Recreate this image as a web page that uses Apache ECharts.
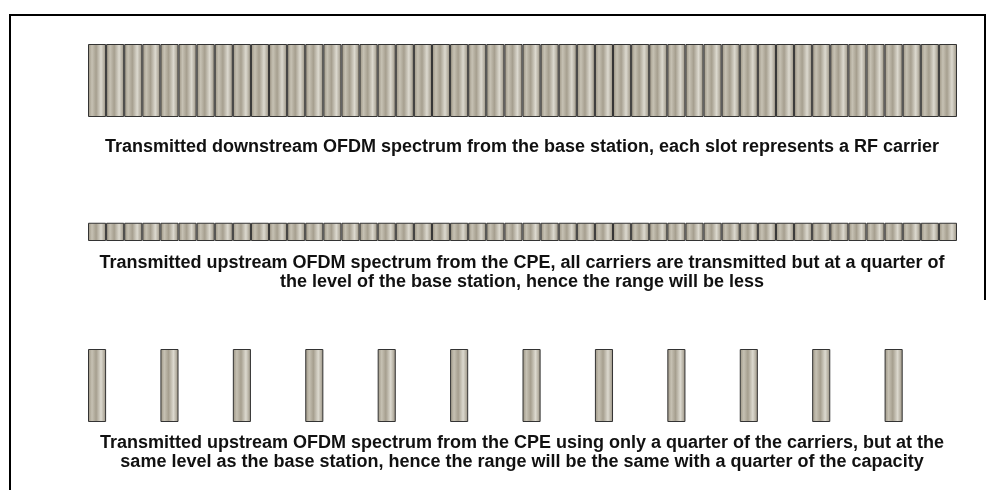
<!DOCTYPE html>
<html>
<head>
<meta charset="utf-8">
<script src="https://cdn.jsdelivr.net/npm/echarts@6/dist/echarts.min.js"></script>
<style>
html,body{margin:0;padding:0;background:#fff;}
#c{width:996px;height:490px;}
</style>
</head>
<body>
<div id="c"></div>
<script>
// 48 RF carriers (slots)
const carriers = ['1','2','3','4','5','6','7','8','9','10','11','12','13','14','15','16',
  '17','18','19','20','21','22','23','24','25','26','27','28','29','30','31','32',
  '33','34','35','36','37','38','39','40','41','42','43','44','45','46','47','48'];
// Downstream from base station: every carrier at full level
const downstreamLevel = [1,1,1,1,1,1,1,1,1,1,1,1,1,1,1,1,1,1,1,1,1,1,1,1,
  1,1,1,1,1,1,1,1,1,1,1,1,1,1,1,1,1,1,1,1,1,1,1,1];
// Upstream from CPE: every carrier at a quarter of the level
const upstreamAllLevel = [0.25,0.25,0.25,0.25,0.25,0.25,0.25,0.25,0.25,0.25,0.25,0.25,
  0.25,0.25,0.25,0.25,0.25,0.25,0.25,0.25,0.25,0.25,0.25,0.25,
  0.25,0.25,0.25,0.25,0.25,0.25,0.25,0.25,0.25,0.25,0.25,0.25,
  0.25,0.25,0.25,0.25,0.25,0.25,0.25,0.25,0.25,0.25,0.25,0.25];
// Upstream from CPE: a quarter of the carriers at full level
const upstreamQuarterLevel = [1,null,null,null,1,null,null,null,1,null,null,null,
  1,null,null,null,1,null,null,null,1,null,null,null,
  1,null,null,null,1,null,null,null,1,null,null,null,
  1,null,null,null,1,null,null,null,1,null,null,null];
const captions = [
  'Transmitted downstream OFDM spectrum from the base station, each slot represents a RF carrier',
  'Transmitted upstream OFDM spectrum from the CPE, all carriers are transmitted but at a quarter of\nthe level of the base station, hence the range will be less',
  'Transmitted upstream OFDM spectrum from the CPE using only a quarter of the carriers, but at the\nsame level as the base station, hence the range will be the same with a quarter of the capacity'
];

const barFill = new echarts.graphic.LinearGradient(0, 0, 1, 0, [
  {offset: 0, color: '#9a9281'},
  {offset: 0.22, color: '#c6c1b3'},
  {offset: 0.45, color: '#a69f8f'},
  {offset: 0.72, color: '#dcd9cf'},
  {offset: 0.9, color: '#b0aa9c'},
  {offset: 1, color: '#988f7e'}
]);
const barStyle = {color: barFill, borderColor: '#333333', borderWidth: 1};

const gridLeft = 88, gridWidth = 869, gridH = 73;
const tops = [44, 168, 349];
const grids = tops.map(t => ({left: gridLeft, top: t, width: gridWidth, height: gridH}));
const xAxes = tops.map((t, i) => ({type: 'category', gridIndex: i, data: carriers, show: false}));
const yAxes = tops.map((t, i) => ({type: 'value', gridIndex: i, min: 0, max: 1, show: false}));
const rows = [downstreamLevel, upstreamAllLevel, upstreamQuarterLevel];
const series = rows.map((d, i) => ({
  type: 'bar', xAxisIndex: i, yAxisIndex: i, data: d,
  barWidth: '100%', barCategoryGap: '0%',
  itemStyle: barStyle, silent: true, animation: false
}));

const font = 'bold 18px "Liberation Sans", Arial, sans-serif';

const chart = echarts.init(document.getElementById('c'), null, {renderer: 'canvas'});
chart.setOption({
  animation: false,
  backgroundColor: '#fff',
  grid: grids, xAxis: xAxes, yAxis: yAxes, series: series,
  graphic: [
    {type: 'polyline', silent: true, shape: {points: [[10, 490], [10, 15], [985, 15], [985, 300]]},
     style: {stroke: '#000', lineWidth: 2, fill: null}},
    {type: 'text', silent: true, x: 522, y: 138, style: {text: captions[0], font: font, fill: '#111', align: 'center', lineHeight: 19}},
    {type: 'text', silent: true, x: 522, y: 254, style: {text: captions[1], font: font, fill: '#111', align: 'center', lineHeight: 19}},
    {type: 'text', silent: true, x: 522, y: 433, style: {text: captions[2], font: font, fill: '#111', align: 'center', lineHeight: 19.5}}
  ]
});
</script>
</body>
</html>
